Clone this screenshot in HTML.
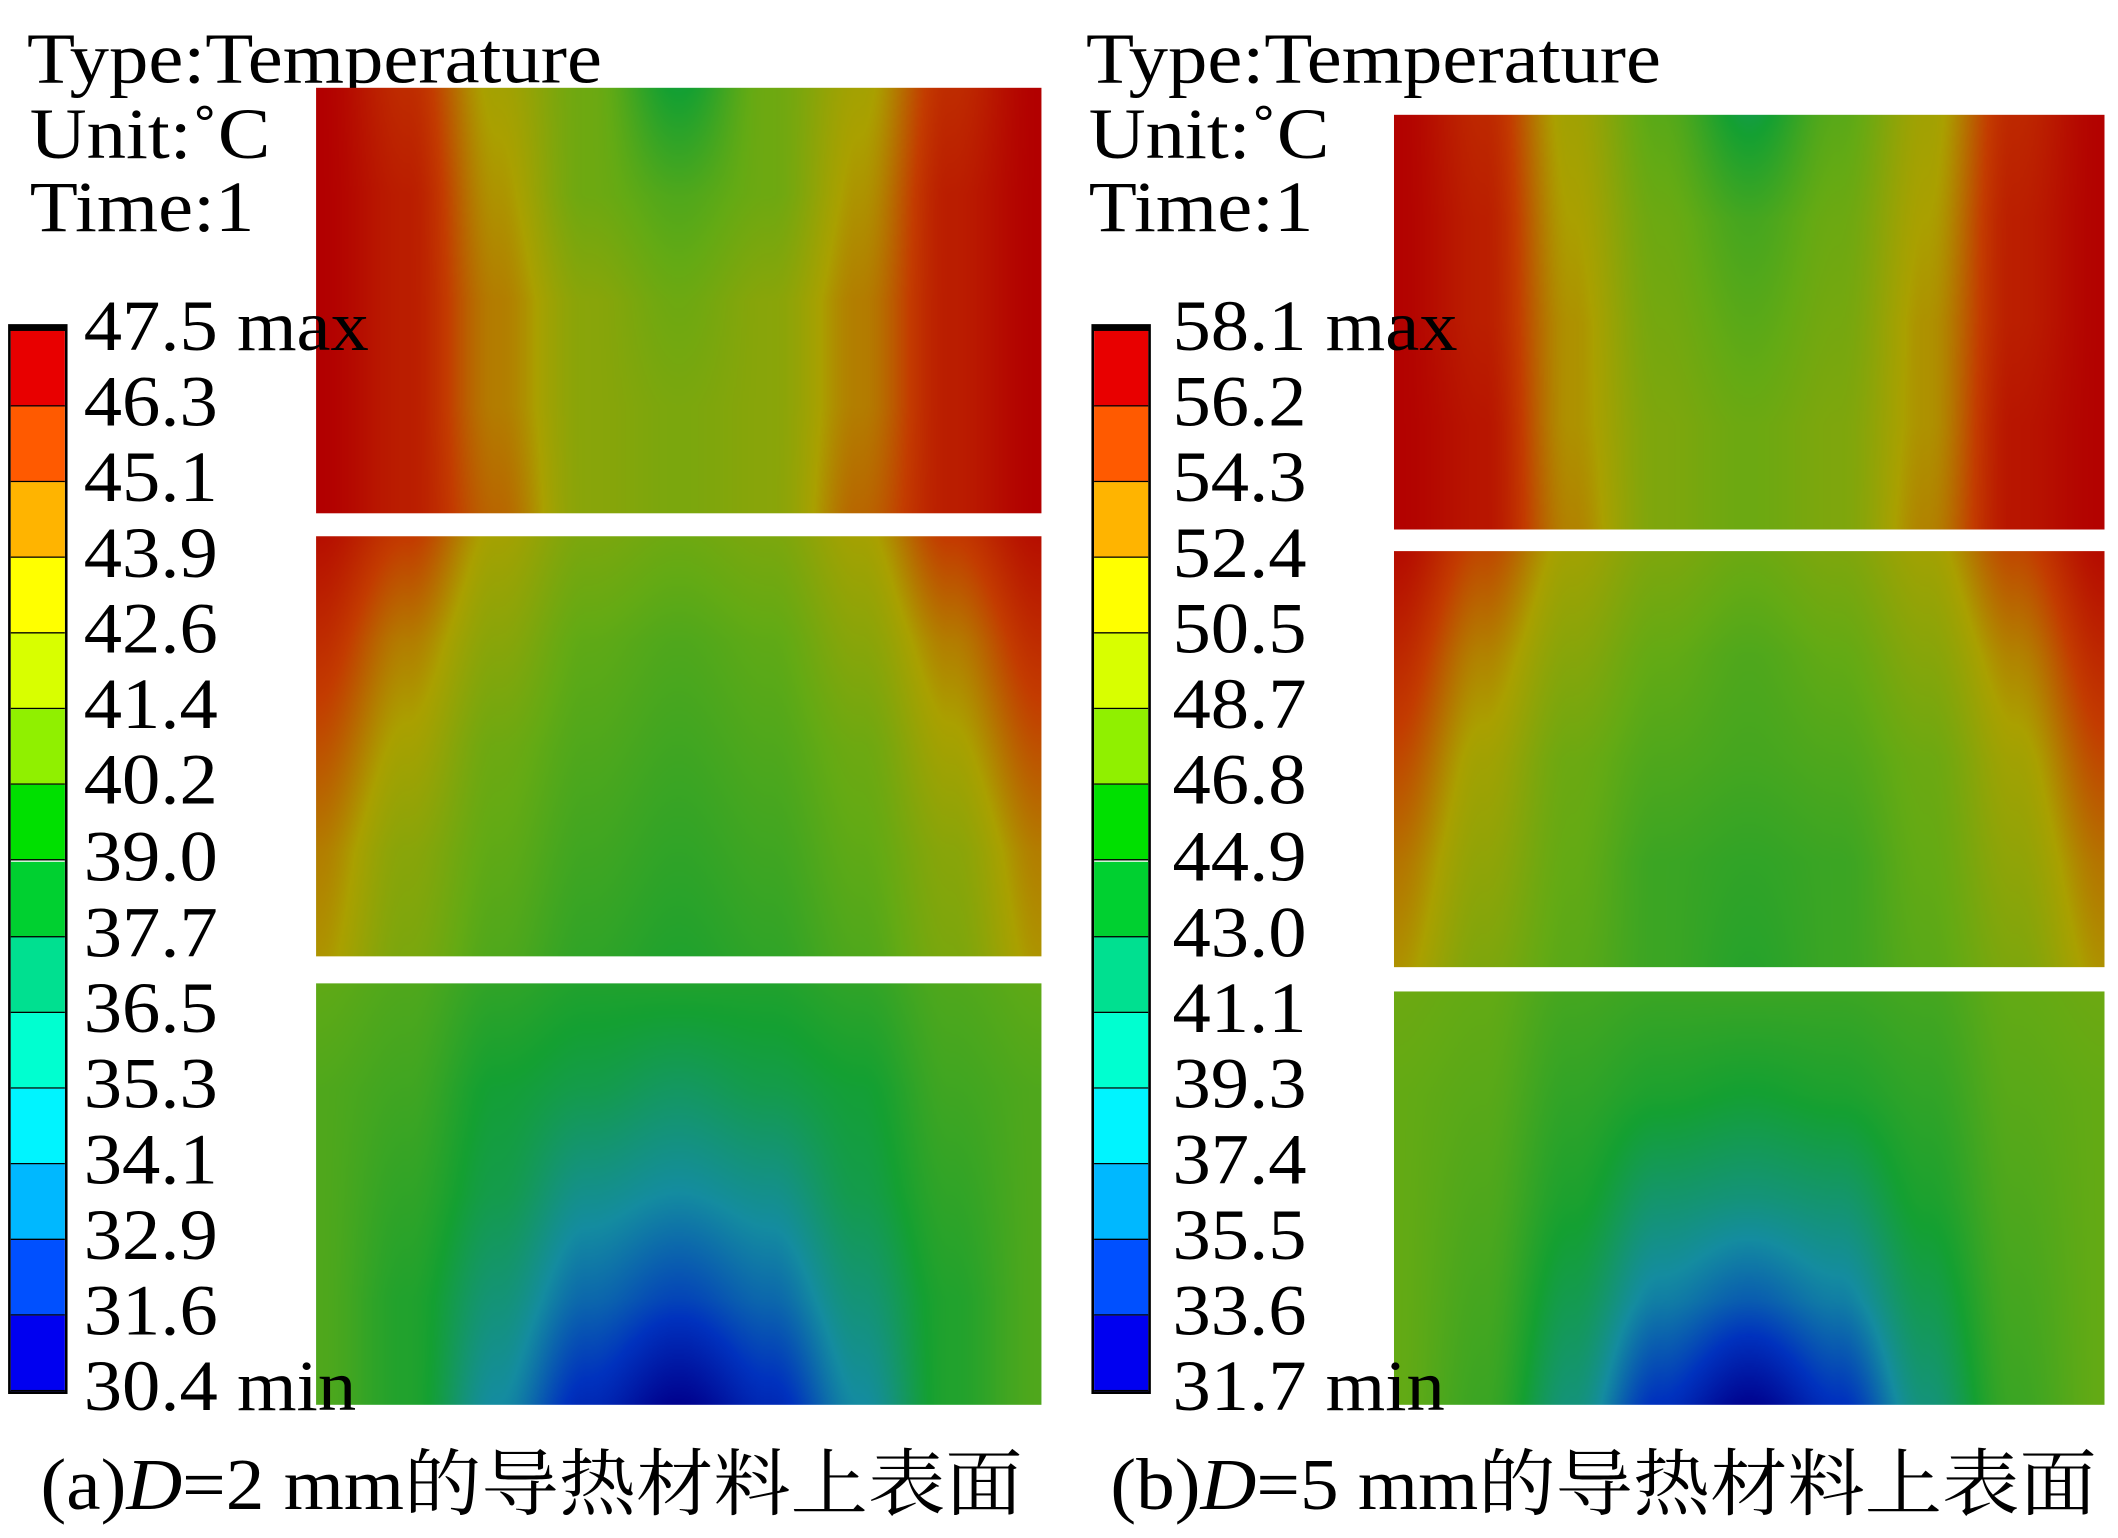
<!DOCTYPE html>
<html><head><meta charset="utf-8"><style>
html,body{margin:0;padding:0;background:#fff;}
body{width:2118px;height:1538px;overflow:hidden;position:relative;}
#wrap{position:absolute;left:0;top:0;width:1568px;height:1138px;transform:scale(1.35077);transform-origin:0 0;font-family:"Liberation Serif","Noto Serif CJK SC",serif;color:#000;}
.t{position:absolute;font-size:53px;line-height:1;white-space:nowrap;transform:scaleX(1.1);transform-origin:0 0;}
.lab{position:absolute;font-size:53px;line-height:1;white-space:nowrap;transform:scaleX(1.07);transform-origin:0 0;}
canvas{position:absolute;}
.cb{position:absolute;width:40px;border:2px solid #000;border-top:5px solid #000;}
.band{position:absolute;left:0;width:40px;border-bottom:1.5px solid #000;box-sizing:border-box;}
.cap{position:absolute;font-size:54px;line-height:1;white-space:nowrap;transform:scaleX(1.06);transform-origin:0 0;}
</style></head><body>
<div id="wrap">
 <div class="t" style="left:20px;top:18px">Type:Temperature</div>
 <div class="t" style="left:22px;top:74px">Unit:˚C</div>
 <div class="t" style="left:22px;top:128px">Time:1</div>
 <div class="t" style="left:804px;top:18px">Type:Temperature</div>
 <div class="t" style="left:806px;top:74px">Unit:˚C</div>
 <div class="t" style="left:806px;top:128px">Time:1</div>
 <div id="cbA" class="cb" style="left:6px;top:240px;height:785px"></div>
 <div id="cbB" class="cb" style="left:808px;top:240px;height:785px"></div>
 <div class="cap" style="left:30px;top:1072px">(a)<i>D</i>=2 mm的导热材料上表面</div>
 <div class="cap" style="left:822px;top:1072px">(b)<i>D</i>=5 mm的导热材料上表面</div>
</div>
<script>
const labelsA=["47.5 max","46.3","45.1","43.9","42.6","41.4","40.2","39.0","37.7","36.5","35.3","34.1","32.9","31.6","30.4 min"];
const labelsB=["58.1 max","56.2","54.3","52.4","50.5","48.7","46.8","44.9","43.0","41.1","39.3","37.4","35.5","33.6","31.7 min"];
const bandColors=["#e80000","#ff5a00","#ffb400","#ffff00","#d8ff00","#90f000","#00e000","#00d030","#00e090","#00ffd0","#00f4ff","#00b8ff","#0050ff","#0000f0"];
const rangeA=[30.4,47.5];
const rangeB=[31.7,58.1];
const gridA1=[[47.5,46,43,41,38,41,43,46,47.5],[47.5,46.5,43.5,41,40,41,43.5,46.5,47.5],[47.5,46.5,44,42,41,42,44,46.5,47.5],[47.5,46.5,44,42,41.5,42,44,46.5,47.5],[47.5,46.5,44.5,42,41.5,42,44.5,46.5,47.5]];
const gridA2=[[47,45.5,43,41.5,41,41.5,43,45.5,47],[46,44,42,40.5,40,40.5,42,44,46],[45,43,41,40,39.5,40,41,43,45],[44,42,40.5,39.5,39,39.5,40.5,42,44],[43.5,41.5,40,39,38.5,39,40,41.5,43.5]];
const gridA3=[[40.5,40,39,38.5,38.5,38.5,39,40,40.5],[40,39.5,38,37.5,37,37.5,38,39.5,40],[40,39,37.5,36,35.5,36,37.5,39,40],[40,38.5,36.5,34.5,33.5,34.5,36.5,38.5,40],[40,38.5,35.5,32.5,30.5,32.5,35.5,38.5,40]];
const gridB1=[[58,56,51,47,43,47,51,56,58],[58,56.5,51.5,48,46,48,51.5,56.5,58],[58,56.5,52,48.5,47,48.5,52,56.5,58],[58,57,52,49,48,49,52,57,58],[58,57,52.5,49,48,49,52.5,57,58]];
const gridB2=[[57.5,54.5,51,49,48,49,51,54.5,57.5],[56,52.5,49.5,47.5,46.5,47.5,49.5,52.5,56],[54.5,51,48,46.5,46,46.5,48,51,54.5],[53,50,47.5,45.5,45,45.5,47.5,50,53],[52,49,47,45.5,44.5,45.5,47,49,52]];
const gridB3=[[48,47.5,46,45.5,45.5,45.5,46,47.5,48],[47.5,47,45,44,43.5,44,45,47,47.5],[47.5,46.5,44,41.5,41,41.5,44,46.5,47.5],[47.5,46,42.5,39,37.5,39,42.5,46,47.5],[47.5,45.5,41,35.5,32,35.5,41,45.5,47.5]];
const panels=[
 {g:gridA1,r:rangeA,x:234,y:65,w:537,h:315,n:'heatmap-a-top'},
 {g:gridA2,r:rangeA,x:234,y:397,w:537,h:311,n:'heatmap-a-middle'},
 {g:gridA3,r:rangeA,x:234,y:728,w:537,h:312,n:'heatmap-a-bottom'},
 {g:gridB1,r:rangeB,x:1032,y:85,w:526,h:307,n:'heatmap-b-top'},
 {g:gridB2,r:rangeB,x:1032,y:408,w:526,h:308,n:'heatmap-b-middle'},
 {g:gridB3,r:rangeB,x:1032,y:734,w:526,h:306,n:'heatmap-b-bottom'}];
const cmap=[[0,[0,0,140]],[0.15,[0,50,190]],[0.3,[20,140,160]],[0.45,[20,160,50]],[0.6,[100,170,20]],[0.75,[170,160,0]],[0.88,[195,60,0]],[1,[178,0,0]]];
function col(t){t=Math.max(0,Math.min(1,t));for(let i=1;i<cmap.length;i++){if(t<=cmap[i][0]){const a=cmap[i-1],b=cmap[i];const f=(t-a[0])/(b[0]-a[0]);return a[1].map((v,k)=>v+(b[1][k]-v)*f);}}return cmap[cmap.length-1][1];}
const wrap=document.getElementById('wrap');
panels.forEach(p=>{
 const c=document.createElement('canvas');c.width=p.w;c.height=p.h;c.style.left=p.x+'px';c.style.top=p.y+'px';
 
 
 const ctx=c.getContext('2d');const im=ctx.createImageData(p.w,p.h);
 const R=p.g.length,C=p.g[0].length;
 const sm=t=>t*t*(3-2*t);
 for(let y=0;y<p.h;y++){const gy=y/(p.h-1)*(R-1);const y0=Math.min(R-2,Math.floor(gy)),fy=gy-y0;
  for(let x=0;x<p.w;x++){const gx=x/(p.w-1)*(C-1);const x0=Math.min(C-2,Math.floor(gx)),fx=sm(gx-x0);
   const v=(p.g[y0][x0]*(1-fx)+p.g[y0][x0+1]*fx)*(1-fy)+(p.g[y0+1][x0]*(1-fx)+p.g[y0+1][x0+1]*fx)*fy;
   const cc=col((v-p.r[0])/(p.r[1]-p.r[0]));const i=(y*p.w+x)*4;
   im.data[i]=cc[0];im.data[i+1]=cc[1];im.data[i+2]=cc[2];im.data[i+3]=255;}}
 ctx.putImageData(im,0,0);wrap.appendChild(c);
});
function bar(id,labels,lx,nm){
 const cb=document.getElementById(id);const h=785,bh=h/bandColors.length;
 bandColors.forEach((c,i)=>{const d=document.createElement('div');d.className='band';d.style.top=(i*bh)+'px';d.style.height=bh+'px';d.style.background=c;
  
  
  cb.appendChild(d);});
 labels.forEach((t,i)=>{const d=document.createElement('div');d.className='lab';d.textContent=t;d.style.left=lx+'px';
  d.style.top=(240+i*bh-24)+'px';
  
  
  wrap.appendChild(d);});
}
bar('cbA',labelsA,62,'colorbar-tick-label-a');
bar('cbB',labelsB,868,'colorbar-tick-label-b');
</script>
</body></html>
